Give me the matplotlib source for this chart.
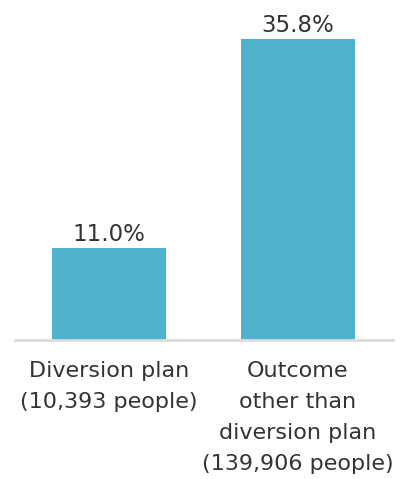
import matplotlib.pyplot as plt

categories = ["Diversion plan\n(10,393 people)",
              "Outcome\nother than\ndiversion plan\n(139,906 people)"]
values = [11.0, 35.8]
value_labels = ["11.0%", "35.8%"]

plt.rcParams['font.family'] = ['DejaVu Sans']

fig = plt.figure(figsize=(4.16, 4.79), dpi=100)
W, H = 416, 479
base = 340
ax = fig.add_axes([15 / W, (H - base) / H, (393 - 15) / W, 336 / H])

x = [0, 1]
ax.bar(x, values, width=0.603, color="#4fb2cd")
ax.set_xlim(-0.497, 1.503)
ax.set_ylim(0, 40)

for xi, v, lab in zip(x, values, value_labels):
    ax.annotate(lab, (xi, v), xytext=(0, 5), textcoords="offset points",
                ha="center", va="baseline", fontsize=16.5, color="#333333")

for xi, cat in zip(x, categories):
    ax.text(xi, -2.5, cat, ha="center", va="top", fontsize=16, color="#333333",
            linespacing=1.69)

for s in ["top", "right", "left"]:
    ax.spines[s].set_visible(False)
ax.spines["bottom"].set_color("#dcdcdc")
ax.spines["bottom"].set_linewidth(2)
ax.set_xticks([])
ax.set_yticks([])

plt.savefig("out.png", dpi=100)
